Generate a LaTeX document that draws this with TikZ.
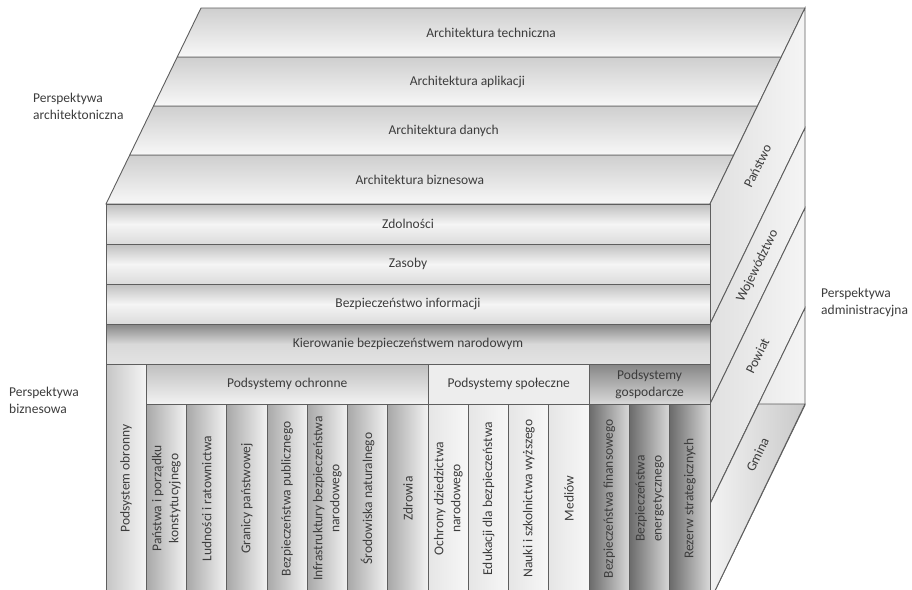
\documentclass[tikz,border=0pt]{standalone}
\usepackage{fontspec}
\setmainfont{Carlito}
\usetikzlibrary{calc}
\definecolor{txt}{HTML}{3C3C3C}
\definecolor{edge}{HTML}{5E5E5E}

\begin{document}
\begin{tikzpicture}[x=1pt,y=-1pt,
  every node/.style={font=\fontsize{13.5}{17}\selectfont,text=txt},
  face/.style={draw=edge,line width=0.9pt},
  cell/.style={face,inner sep=0pt,minimum height=40pt},
  rowlight/.style={cell,minimum width=604pt,top color=gray!50,bottom color=gray!28,middle color=gray!8},
  rowdark/.style={cell,minimum width=604pt,top color=gray!95,bottom color=gray!22,middle color=gray!30},
  column/.style={face,inner sep=0pt,rotate=90,minimum width=189pt,minimum height=604pt/15,align=center},
  persp/.style={align=left,inner sep=0pt,anchor=west}
]
  \useasboundingbox (0,0) rectangle (912,589);
  \clip (0,0) rectangle (912,589);

  \coordinate (ftl) at (106,204);
  \coordinate (ftr) at (710,204);
  \coordinate (btl) at (201,8);
  \coordinate (btr) at (805,8);

  \foreach \a/\b/\lbl [count=\n] in {0/0.25/Architektura biznesowa,0.25/0.5/Architektura danych,0.5/0.75/Architektura aplikacji,0.75/1/Architektura techniczna} {
    \shade[face,top color=gray!38,bottom color=gray!6] ($(ftl)!\a!(btl)$) -- ($(ftl)!\b!(btl)$) -- ($(ftr)!\b!(btr)$) -- ($(ftr)!\a!(btr)$) -- cycle;
    \node (arch\n) at ($(408,204)!{(\a+\b)/2}!(503,8)$) {\lbl};
  }

  \foreach \s/\t in {0/120,120/200,200/300,300/397}
    \shade[face,left color=gray!24,right color=gray!8] (710,204+\s) -- (805,8+\s) -- (805,8+\t) -- (710,204+\t) -- cycle;
  \shade[face,left color=gray!10,right color=gray!42] (758.5,404) -- (805,404) -- (710,601) -- (710,504) -- cycle;
  \foreach \s/\t/\lbl [count=\n] in {0/120/Państwo,120/200/Województwo,200/300/Powiat,300/397/Gmina}
    \node[rotate=64] (adm\n) at (757.5,{106+(\s+\t)/2}) {\lbl};

  \node[rowlight] (zdolnosci) at (408,224) {Zdolności};
  \node[rowlight] (zasoby) at (408,264) {Zasoby};
  \node[rowlight] (bezinf) at (408,304) {Bezpieczeństwo informacji};
  \node[rowdark] (kierowanie) at (408,344) {Kierowanie bezpieczeństwem narodowym};

  \node[column,minimum width=229pt,left color=gray!45,right color=gray!8] (obronny) at ({106+604/30},478.5) {Podsystem obronny};

  \node[cell,minimum width=604pt*7/15,top color=gray!50,bottom color=gray!10] (ochronne) at ({106+604*4.5/15},384) {Podsystemy ochronne};
  \node[cell,minimum width=604pt*4/15,fill=gray!14] (spoleczne) at ({106+604*10/15},384) {Podsystemy społeczne};
  \node[cell,minimum width=604pt*3/15,top color=gray!95,bottom color=gray!30,align=center] (gospodarcze) at ({106+604*13.5/15},384) {Podsystemy\\gospodarcze};

  \foreach \k/\txt in {1/Państwa i porządku\\konstytucyjnego,2/Ludności i ratownictwa,3/Granicy państwowej,4/Bezpieczeństwa publicznego,5/Infrastruktury bezpieczeństwa\\narodowego,6/Środowiska naturalnego,7/Zdrowia}
    \node[column,left color=gray!68,right color=gray!10] (col\k) at ({106+(\k+0.5)*604/15},498.5) {\txt};

  \foreach \k/\txt in {8/Ochrony dziedzictwa\\narodowego,9/Edukacji dla bezpieczeństwa,10/Nauki i szkolnictwa wyższego,11/Mediów}
    \node[column,left color=gray!20,right color=gray!6] (col\k) at ({106+(\k+0.5)*604/15},498.5) {\txt};

  \foreach \k/\txt in {12/Bezpieczeństwa finansowego,13/Bezpieczeństwa\\energetycznego,14/Rezerw strategicznych}
    \node[column,left color=black!58,right color=gray!30] (col\k) at ({106+(\k+0.5)*604/15},498.5) {\txt};

  \node[persp] (parch) at (33,106) {Perspektywa\\architektoniczna};
  \node[persp] (pbiz) at (9,400) {Perspektywa\\biznesowa};
  \node[persp] (padm) at (821,302) {Perspektywa\\administracyjna};
\end{tikzpicture}
\end{document}
